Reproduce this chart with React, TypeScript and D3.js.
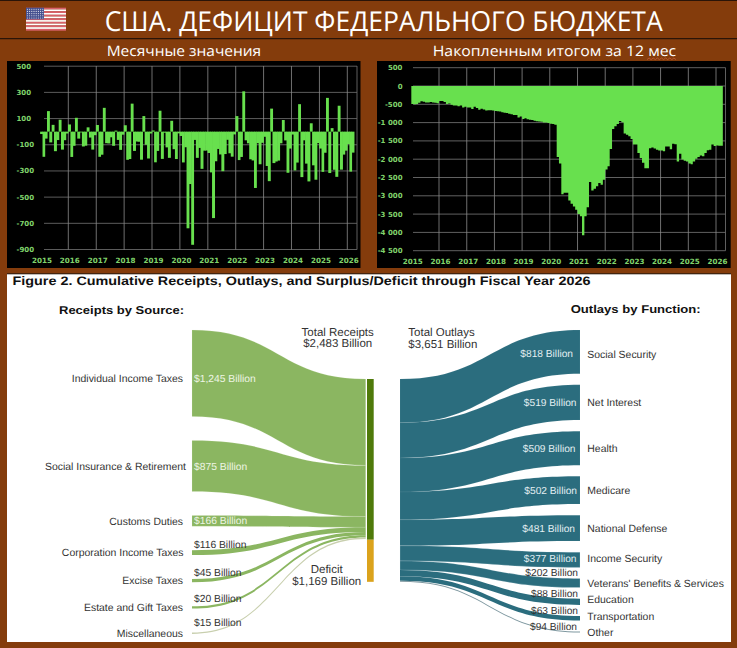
import React from "react";
import { area, curveBumpX, curveStepAfter, cumsum, line, range, scaleLinear, scaleTime, timeMonth } from "d3";

const years = [2015, 2016, 2017, 2018, 2019, 2020, 2021, 2022, 2023, 2024, 2025, 2026];
const monthlyTicks = [500, 300, 100, -100, -300, -500, -700, -900];
const rollingTicks = [500, 0, -500, -1000, -1500, -2000, -2500, -3000, -3500, -4000, -4500];

// $bn per month, Jan 2015 .. Mar 2026
const monthly = [
    -18, -192, -53, 157, -82, 52, -149, -64, 91, -137, -65, -14,
    55, -193, -108, 106, -53, -6, -113, -107, 33, -45, -137, -27,
    51, -192, -176, 182, -88, -90, -43, -108, 8, -63, -139, -23,
    49, -215, -209, 214, -147, -75, -77, -214, 119, -100, -205, -14,
    9, -234, -147, 160, -208, -8, -120, -200, 83, -134, -209, -13,
    -33, -235, -119, -738, -400, -864, -63, -200, -124, -284, -145, -144,
    -163, -311, -660, -226, -132, -174, -302, -171, -62, -165, -191, -21,
    119, -217, -193, 308, -66, -89, -211, -220, -430, -88, -249, -85,
    -39, -262, -378, 176, -240, -228, -221, -89, 89, -67, -314, -129,
    -22, -296, -236, 210, -347, -66, -244, -380, 64, -257, -367, -87,
    -129, -307, -161, 258, -316, 27, -291, -345, 198, -290, -175, -145,
    -95, -305, -160,
];

// $bn, 12-month running total, Jan 2015 .. Mar 2026
const rolling = [
    -490, -500, -490, -460, -420, -430, -450, -450, -440, -450, -460, -470,
    -410, -410, -440, -490, -480, -510, -530, -530, -550, -530, -590, -570,
    -590, -590, -630, -570, -600, -650, -620, -640, -670, -660, -660, -670,
    -680, -690, -700, -720, -730, -740, -760, -770, -790, -790, -860, -830,
    -900, -880, -910, -920, -930, -950, -960, -970, -980, -1000, -1000, -1010,
    -1030, -1040, -1060, -1940, -2120, -2960, -2920, -2920, -3130, -3220, -3290, -3380,
    -3500, -3560, -4077, -3560, -3312, -2620, -2857, -2810, -2740, -2650, -2700, -2560,
    -2284, -2193, -1720, -1174, -1100, -1037, -955, -990, -1300, -1330, -1374, -1447,
    -1600, -1600, -1830, -1966, -2100, -2250, -2250, -1700, -1680, -1710, -1740, -1765,
    -1765, -1780, -1650, -1650, -1730, -1575, -1590, -2060, -1850, -2010, -2040, -2060,
    -2120, -2140, -2060, -1985, -1940, -1900, -1920, -1830, -1756, -1740, -1600, -1640,
    -1625, -1635, -1630,
];

const receiptNames = ["Individual Income Taxes", "Social Insurance & Retirement", "Customs Duties", "Corporation Income Taxes", "Excise Taxes", "Estate and Gift Taxes", "Miscellaneous"];
const receiptLabels = ["$1,245 Billion", "$875 Billion", "$166 Billion", "$116 Billion", "$45 Billion", "$20 Billion", "$15 Billion"];
// ribbon thickness, expressed in $bn (the picture does not draw them to the labelled values)
const receiptFlow = [1335, 790, 165, 75, 50, 35, 20];

const outlayNames = ["Social Security", "Net Interest", "Health", "Medicare", "National Defense", "Income Security", "Veterans' Benefits & Services", "Education", "Transportation", "Other"];
const outlayLabels = ["$818 Billion", "$519 Billion", "$509 Billion", "$502 Billion", "$481 Billion", "$377 Billion", "$202 Billion", "$88 Billion", "$63 Billion", "$94 Billion"];
const outlayFlow = [675, 545, 525, 430, 400, 235, 140, 97, 68, 15];

const totalReceipts = 2483;
const deficitFlow = 650;
const totalOutlayFlow = 3145;

const BROWN = "#843c0c";
const GREEN = "#68e04e";
const TICK = "#80d46c";
const SANS = "'Liberation Sans', Arial, sans-serif";
const MONO = "'DejaVu Sans', sans-serif";

const months = timeMonth.range(new Date(2015, 0, 1), new Date(2026, 3, 1));
const nextMonth = (d: Date) => timeMonth.offset(d, 1);
const fmt = (v: number) => {
    const s = String(Math.abs(v));
    const body = s.length > 3 ? s.slice(0, -3) + " " + s.slice(-3) : s;
    return (v < 0 ? "-" : "") + body;
};

const YearGrid: React.FC<{ x: (d: Date) => number; y0: number; y1: number; color: string }> = ({ x, y0, y1, color }) => (
    <g>
        {years.slice(1).map((yr) => (
            <line key={yr} x1={x(new Date(yr, 0, 1))} x2={x(new Date(yr, 0, 1))} y1={y0} y2={y1} stroke={color} strokeWidth={0.8} />
        ))}
    </g>
);

const MonthlyChart = () => {
    const x = scaleTime().domain([new Date(2016, 0, 1), new Date(2026, 0, 1)]).range([68.3, 347.3]);
    const y = scaleLinear().domain([-900, 500]).range([249.5, 66.2]);
    return (
        <g>
            <rect x={7} y={61} width={353.5} height={207} fill="#000" />
            {monthlyTicks.map((t) => (
                <g key={t}>
                    <line x1={44} x2={357} y1={y(t)} y2={y(t)} stroke="#666" strokeWidth={0.9} />
                    <text x={16.5} y={y(t)} dy="0.36em" fontSize={7} fontWeight="bold" fontFamily={MONO} fill={TICK}>{t}</text>
                </g>
            ))}
            <YearGrid x={x} y0={66} y1={249.5} color="#8c8c8c" />
            <line x1={357} x2={357} y1={66} y2={249.5} stroke="#6a6a6a" strokeWidth={0.9} />
            {monthly.map((v, i) => {
                const d = months[i];
                // bars in the picture are a little wider than one month and run into each other
                const w = (x(nextMonth(d)) - x(d)) * 1.25;
                return (
                    <rect
                        key={i}
                        x={(x(d) + x(nextMonth(d))) / 2 - w / 2}
                        width={w}
                        y={v >= 0 ? y(v) : y(0)}
                        height={Math.abs(y(v) - y(0))}
                        fill={GREEN}
                    />
                );
            })}
            {years.map((yr) => (
                <text key={yr} x={x(new Date(yr, 0, 1)) + 1.5} y={260.8} dy="0.36em" textAnchor="middle" fontSize={7.2} fontWeight="bold" fontFamily={MONO} fill={TICK}>{yr}</text>
            ))}
        </g>
    );
};

const RollingChart = () => {
    const x = scaleTime().domain([new Date(2016, 0, 1), new Date(2026, 0, 1)]).range([439, 716]);
    const y = scaleLinear().domain([-4500, 500]).range([250.7, 67.7]);
    const points = [...months.map((d, i) => ({ d, v: rolling[i] })), { d: new Date(2026, 3, 1), v: rolling[rolling.length - 1] }];
    const shape = area<{ d: Date; v: number }>()
        .x((p) => x(p.d))
        .y0(y(0))
        .y1((p) => y(p.v))
        .curve(curveStepAfter);
    return (
        <g>
            <rect x={377} y={61} width={353.7} height={207} fill="#000" />
            {rollingTicks.map((t) => (
                <g key={t}>
                    <line x1={413} x2={725.5} y1={y(t)} y2={y(t)} stroke="#6c6c6c" strokeWidth={0.9} />
                    <text x={402.5} y={y(t)} dy="0.36em" textAnchor="end" fontSize={7} fontWeight="bold" fontFamily={MONO} fill={TICK}>{fmt(t)}</text>
                </g>
            ))}
            <YearGrid x={x} y0={67.7} y1={250.7} color="#8c8c8c" />
            <line x1={725.5} x2={725.5} y1={67.7} y2={250.7} stroke="#6a6a6a" strokeWidth={0.9} />
            <path d={shape(points) ?? ""} fill={GREEN} />
            {years.map((yr) => (
                <text key={yr} x={x(new Date(yr, 0, 1)) + 1.5} y={261.8} dy="0.36em" textAnchor="middle" fontSize={7.2} fontWeight="bold" fontFamily={MONO} fill={TICK}>{yr}</text>
            ))}
        </g>
    );
};

type Ribbon = { top: number; bottom: number; from: number; to: number };

// stacks flows into ribbons: equal gaps on the free side, no gap on the bar side
const layout = (flows: number[], px: (v: number) => number, freeTop: number, gap: number, barTop: number): Ribbon[] => {
    const ends = [0, ...cumsum(flows)];
    return flows.map((f, i) => ({
        top: freeTop + px(ends[i]) + gap * i,
        bottom: freeTop + px(ends[i + 1]) + gap * i,
        from: barTop + px(ends[i]),
        to: barTop + px(ends[i + 1]),
    }));
};

const ribbonPath = (r: Ribbon, xFree: number, xBar: number) =>
    area<{ x: number; a: number; b: number }>()
        .x((p) => p.x)
        .y0((p) => p.a)
        .y1((p) => p.b)
        .curve(curveBumpX)(
            xFree < xBar
                ? [{ x: xFree, a: r.top, b: r.bottom }, { x: xBar, a: r.from, b: r.to }]
                : [{ x: xBar, a: r.from, b: r.to }, { x: xFree, a: r.top, b: r.bottom }]
        ) ?? "";

const Sankey = () => {
    const px = scaleLinear().domain([0, totalOutlayFlow]).range([0, 203.6]);
    const receipts = layout(receiptFlow, px, 330, 24, 379);
    const outlays = layout(outlayFlow, px, 330, 11.1, 379);
    const txt = { fontFamily: SANS, fontSize: 10.45, fill: "#333" };
    const big = { fontFamily: SANS, fontSize: 11.5, fill: "#333" };
    // small hand nudges for the label rows
    const receiptNameX = [183, 186, 183, 183.5, 183, 183, 183];
    const receiptNameDy = [5, 0, 0, 0, 0, 0, 0];
    const receiptValueDy = [5.5, 0, -0.5, -8, -8, -9, -10.8];
    const outlayValueX = [573, 576.5, 575.5, 577, 575, 576.5, 578, 578, 578, 577];
    const outlayNameDy = [2, 0, 0, 0, 0, -1.5, 0, -2, -1.5, 0];
    const outlayValueDy = [2, 0, 0, 0, 0, -1.5];
    return (
        <g>
            <rect x={7} y={274} width={724} height={368} fill="#fff" />
            <line x1={7} x2={731} y1={273.8} y2={273.8} stroke="#2a1a10" strokeWidth={1} />
            <text x={12.5} y={284.5} fontFamily={SANS} fontWeight="bold" fontSize={12.3} fill="#111" textLength={578} lengthAdjust="spacingAndGlyphs">
                Figure 2. Cumulative Receipts, Outlays, and Surplus/Deficit through Fiscal Year 2026
            </text>
            <text x={59} y={313.7} fontFamily={SANS} fontWeight="bold" fontSize={11.3} fill="#111" textLength={125} lengthAdjust="spacingAndGlyphs">Receipts by Source:</text>
            <text x={570.7} y={313} fontFamily={SANS} fontWeight="bold" fontSize={11.3} fill="#111" textLength={130} lengthAdjust="spacingAndGlyphs">Outlays by Function:</text>

            <text x={337.7} y={335.7} textAnchor="middle" {...big}>Total Receipts</text>
            <text x={337.7} y={347} textAnchor="middle" {...big}>$2,483 Billion</text>
            <text x={408.3} y={335.7} {...big}>Total Outlays</text>
            <text x={408.3} y={347.5} {...big}>$3,651 Billion</text>
            <text x={326.7} y={572.7} textAnchor="middle" {...big}>Deficit</text>
            <text x={326.7} y={585} textAnchor="middle" {...big}>$1,169 Billion</text>

            {receipts.map((r, i) => (
                <path
                    key={i}
                    d={ribbonPath(r, 192, 365.7)}
                    fill={i === receipts.length - 1 ? "#c8cfae" : "#8bb661"}
                    stroke="#eef4e2"
                    strokeOpacity={0.4}
                    strokeWidth={i < 3 ? 0.4 : 0}
                />
            ))}
            <rect x={367} y={379} width={6.7} height={px(totalReceipts)} fill="#4f7a0a" />
            <rect x={367} y={379 + px(totalReceipts)} width={6.7} height={px(deficitFlow)} fill="#dba31c" />

            {outlays.map((r, i) => (
                <path
                    key={i}
                    d={ribbonPath(r, 580, 400)}
                    fill={i === outlays.length - 1 ? "#7f98a0" : "#2b6d7e"}
                    stroke="#e6f1f4"
                    strokeOpacity={i < 5 ? 0.15 : 0.5}
                    strokeWidth={i < 7 ? 0.4 : 0}
                />
            ))}

            {receiptNames.map((n, i) => (
                <text key={n} x={receiptNameX[i]} y={(receipts[i].top + receipts[i].bottom) / 2 + receiptNameDy[i]} dy="0.35em" textAnchor="end" {...txt}>{n}</text>
            ))}
            {receiptLabels.map((n, i) => (
                <text key={n} x={194} y={(receipts[i].top + receipts[i].bottom) / 2 + receiptValueDy[i]} dy="0.35em" {...txt} fontSize={10.3} fill={i < 3 ? "#eef5e4" : "#333"}>{n}</text>
            ))}
            {outlayNames.map((n, i) => (
                <text key={n} x={587.3} y={(outlays[i].top + outlays[i].bottom) / 2 + outlayNameDy[i]} dy="0.35em" {...txt}>{n}</text>
            ))}
            {outlayLabels.map((n, i) => (
                <text
                    key={n}
                    x={outlayValueX[i]}
                    y={i < 6 ? (outlays[i].top + outlays[i].bottom) / 2 + outlayValueDy[i] : outlays[i].top - 5.6}
                    dy="0.35em"
                    textAnchor="end"
                    {...txt}
                    fontSize={10.2}
                    fill={i < 6 ? "#e3eff2" : "#333"}
                >
                    {n}
                </text>
            ))}
        </g>
    );
};

const Flag = () => {
    const stripe = scaleLinear().domain([0, 13]).range([7.7, 30.7]);
    return (
        <g>
            {range(13).map((i) => (
                <rect key={i} x={26} y={stripe(i)} width={40} height={stripe(1) - stripe(0)} fill={i % 2 ? "#fff" : "#d8606a"} />
            ))}
            <rect x={26} y={7.7} width={18} height={11.6} fill="#45508f" />
            {range(5).map((r) => range(8).map((c) => (
                <circle key={`${r}-${c}`} cx={27.4 + c * 2.2} cy={9.2 + r * 2.2} r={0.55} fill="#e8e8f0" />
            )))}
        </g>
    );
};

const Squiggle = () => {
    const w = scaleLinear().domain([0, 14]).range([647, 676]);
    const d = line<number>().x((i) => w(i)).y((i) => (i % 2 ? 58 : 59.6))(range(15));
    return <path d={d ?? ""} fill="none" stroke="#d0603a" strokeWidth={0.7} />;
};

export default function App() {
    return (
        <svg width={737} height={648} textRendering="geometricPrecision" style={{ position: "absolute", left: 0, top: 0 }}>
            <rect width={737} height={648} fill={BROWN} />
            <line x1={0} x2={737} y1={0.5} y2={0.5} stroke="#2a1408" strokeWidth={1} />
            <line x1={0} x2={737} y1={38.7} y2={38.7} stroke="#2a1408" strokeWidth={1.2} />
            <Flag />
            <text x={104.7} y={30.5} fontFamily="'Open Sans', sans-serif" fontSize={27.5} fill="#fff" textLength={558} lengthAdjust="spacingAndGlyphs">
                США. ДЕФИЦИТ ФЕДЕРАЛЬНОГО БЮДЖЕТА
            </text>
            <text x={106.7} y={56} fontFamily="'Open Sans', sans-serif" fontSize={14.5} fill="#fff" textLength={154.5} lengthAdjust="spacingAndGlyphs">Месячные значения</text>
            <text x={432.7} y={56} fontFamily="'Open Sans', sans-serif" fontSize={14.5} fill="#fff" textLength={243.5} lengthAdjust="spacingAndGlyphs">Накопленным итогом за 12 мес</text>
            <Squiggle />
            <MonthlyChart />
            <RollingChart />
            <Sankey />
        </svg>
    );
}
